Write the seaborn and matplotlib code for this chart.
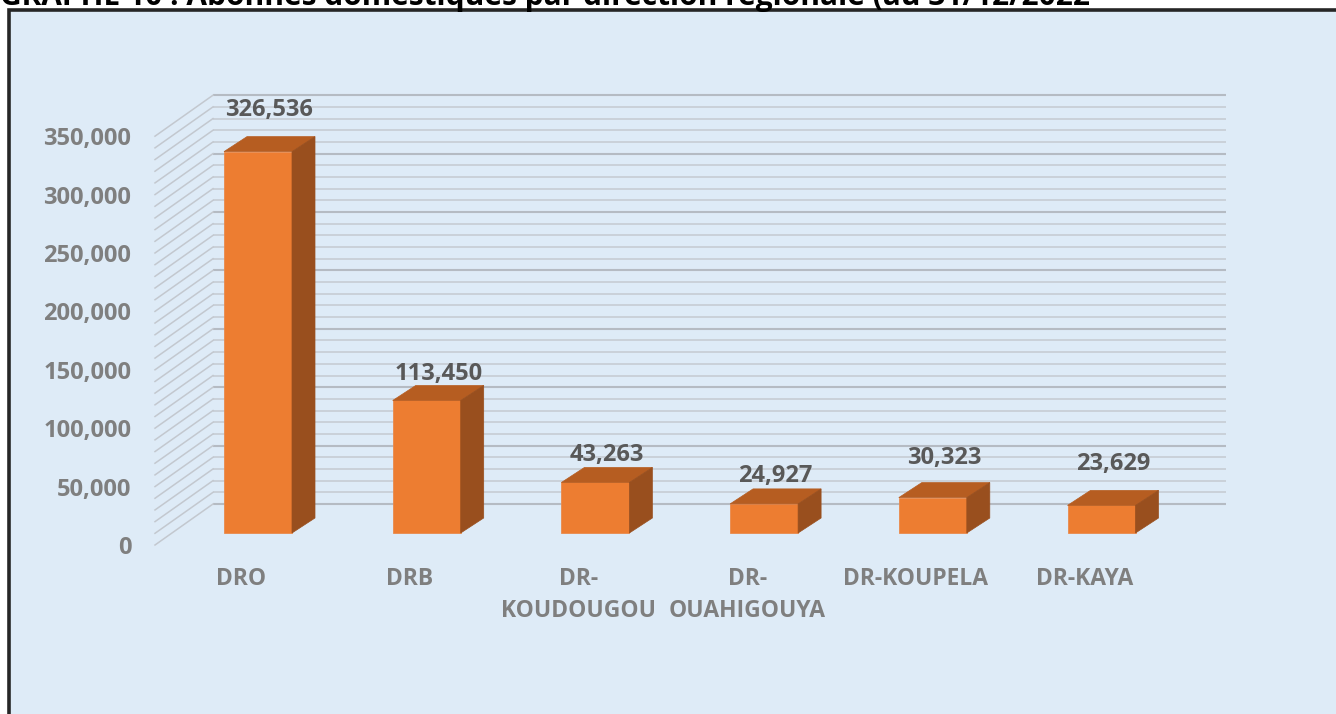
import matplotlib
matplotlib.use("Agg")
import matplotlib.pyplot as plt
import seaborn as sns
import pandas as pd
from matplotlib.patches import Polygon, Rectangle

# ---------------- data ----------------
categories = ["DRO", "DRB", "DR-\nKOUDOUGOU", "DR-\nOUAHIGOUYA", "DR-KOUPELA", "DR-KAYA"]
values = [326536, 113450, 43263, 24927, 30323, 23629]
ytick_values = [0, 50000, 100000, 150000, 200000, 250000, 300000, 350000]
title = "GRAPHE 10 : Abonnés domestiques par direction régionale (au 31/12/2022"

# ---------------- style / layout ----------------
plt.rcParams["font.family"] = ["Open Sans", "DejaVu Sans"]
W, H = 1336, 714
BG = "#DEEBF7"
FRONT, TOP, SIDE = "#ED7D31", "#B65D21", "#994F1E"
LABEL_DARK, LABEL_GRAY = "#595959", "#7F7F7F"
label_gap_px = [21, 5, 6, 6.5, 19, 20]

PXC = 168.7     # pixels per category step
X0 = 258        # pixel x of category 0 (bar plane)
Y0 = 533        # pixel y of value 0 (bar plane)
U = 50000 / 58.4  # value units per pixel
DEPTH_X, DEPTH_Y = 23, 15     # bar depth in px
WALL_DY = 29                  # back wall offset (px) from bar plane


def fx(px):
    return px / W


def fy(py):
    return 1 - py / H


fig = plt.figure(figsize=(W / 100, H / 100), dpi=100)
fig.patch.set_facecolor("white")

frame = Rectangle((fx(9), fy(800)), fx(1420) - fx(9), fy(10) - fy(800),
                  transform=fig.transFigure, facecolor=BG, edgecolor="#262626",
                  lw=2.6, zorder=-5)
fig.patches.append(frame)

# ---------------- bar plane axes ----------------
ax = fig.add_axes([fx(100), fy(600), fx(1250) - fx(100), fy(60) - fy(600)])

df = pd.DataFrame({"region": categories, "abonnes": values})
sns.barplot(data=df, x="region", y="abonnes", order=categories, color=FRONT,
            saturation=1, width=68 / PXC, ax=ax, zorder=4,
            edgecolor="#E98A4C", linewidth=0.6)

ax.set_xlim((100 - X0) / PXC, (1250 - X0) / PXC)
ax.set_ylim((Y0 - 600) * U, (Y0 - 60) * U)
ax.axis("off")

# back wall grid lines and side wall lines
wx0, wx1 = (213 - X0) / PXC, (1226 - X0) / PXC
sx0 = (155 - X0) / PXC
for v in range(0, 350001, 10000):
    major = v % 50000 == 0
    yb = v + WALL_DY * U
    ax.plot([wx0, wx1], [yb, yb], color="#B5BBC3" if major else "#C6CCD4",
            lw=1.5 if major else 1.2, zorder=1, solid_capstyle="butt")
    ax.plot([sx0, wx0], [v - 12 * U, yb], color="#C3C8CF", lw=1.1, zorder=1)

ddx, ddy = DEPTH_X / PXC, DEPTH_Y * U
for p, v, gap in zip(ax.patches, values, label_gap_px):
    x0, w, h = p.get_x(), p.get_width(), p.get_height()
    x1 = x0 + w
    ax.add_patch(Polygon([(x0, h), (x1, h), (x1 + ddx, h + ddy), (x0 + ddx, h + ddy)],
                         closed=True, facecolor=TOP, edgecolor=TOP, lw=0.5, zorder=4))
    ax.add_patch(Polygon([(x1, 0), (x1 + ddx, ddy), (x1 + ddx, h + ddy), (x1, h)],
                         closed=True, facecolor=SIDE, edgecolor=SIDE, lw=0.5, zorder=4))
    ax.text(x0 + (w + ddx) / 2, h + ddy + gap * U, f"{v:,}", ha="center",
            va="baseline", fontsize=17, fontweight="bold", color=LABEL_DARK, zorder=6)

# ---------------- label plane axes ----------------
LX0 = X0 - 17
lab = fig.add_axes([fx(155), fy(545), fx(1233) - fx(155), fy(72) - fy(545)])
lab.set_xlim((155 - LX0) / PXC, (1233 - LX0) / PXC)
lab.set_ylim(0, (545 - 72) * U)
lab.set_xticks(range(len(categories)), categories)
lab.set_yticks(ytick_values, [f"{v:,}" for v in ytick_values])
lab.patch.set_visible(False)
for s in lab.spines.values():
    s.set_visible(False)
lab.tick_params(axis="x", length=0, pad=16, labelsize=16.5, labelcolor=LABEL_GRAY)
lab.tick_params(axis="y", length=0, pad=17, labelsize=17, labelcolor=LABEL_GRAY)
for t in lab.get_xticklabels() + lab.get_yticklabels():
    t.set_fontweight("bold")
for t in lab.get_xticklabels():
    t.set_linespacing(1.45)

# ---------------- title (cut at top edge, as in the reference) ----------------
fig.text(fx(0), fy(5), title, ha="left", va="baseline", fontsize=21.5,
         fontweight="bold", color="black")

fig.savefig("out.png", dpi=100, facecolor=fig.get_facecolor())
